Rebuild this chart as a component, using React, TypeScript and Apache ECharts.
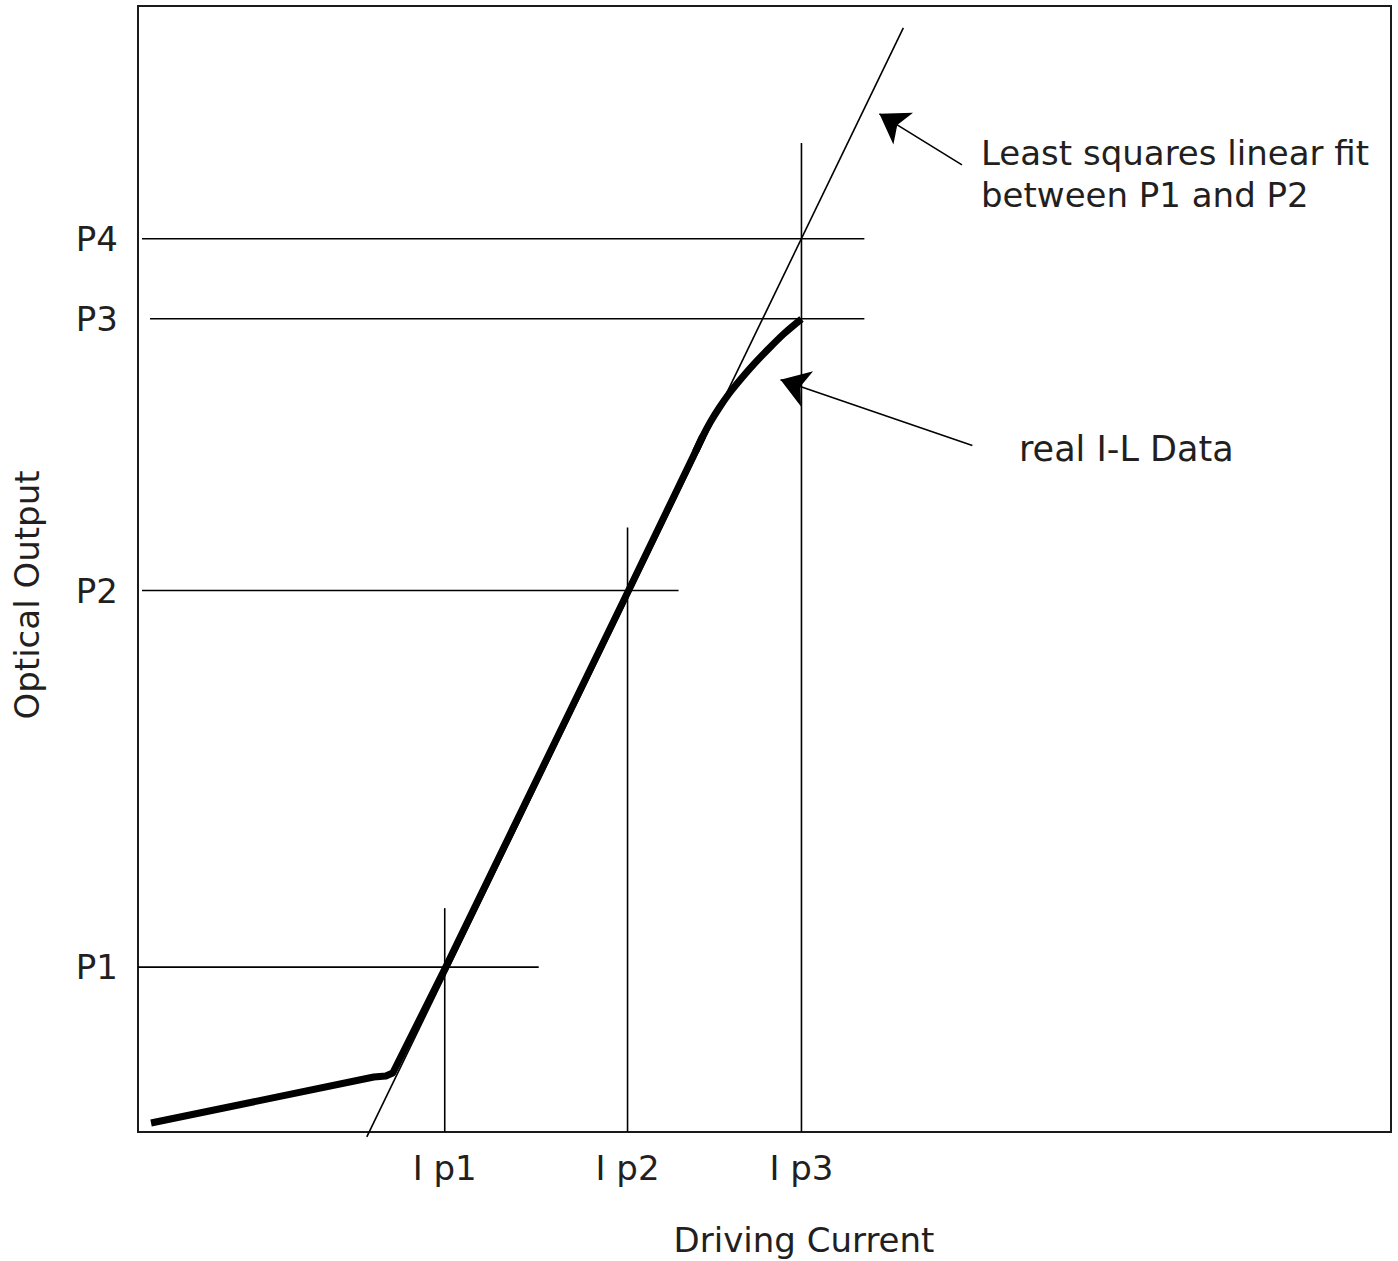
import React, { useEffect, useRef } from "react";
import * as echarts from "echarts";

// Axis domain (schematic units)
const X_MAX = 100;
const Y_MAX = 100;

// Current tick positions and labels
const currentTicks = [24.48, 39.07, 52.95];
const currentLabels = ["I p1", "I p2", "I p3"];

// Output tick positions and labels
const outputTicks = [14.64, 48.09, 72.23, 79.33];
const outputLabels = ["P1", "P2", "P3", "P4"];

// Horizontal guide lines: [xStart, xEnd, y]
const hGuides: [number, number, number][] = [
  [0, 31.98, 14.64],
  [0.32, 43.14, 48.09],
  [0.96, 57.97, 72.23],
  [0.32, 57.97, 79.33],
];

// Vertical guide lines: [x, yTop]
const vGuides: [number, number][] = [
  [24.48, 19.88],
  [39.07, 53.68],
  [52.95, 87.84],
];

// Least squares fit line endpoints
const fitLine: [number, number][] = [
  [18.26, -0.44],
  [61.08, 98.05],
];

// Real I-L data: linear region
const ilCurrent = [1.04, 18.82, 19.78, 20.33, 20.73, 24.56, 39.15, 44.5, 45.06];
const ilOutput = [0.8, 4.88, 4.97, 5.24, 6.12, 14.64, 48.09, 60.43, 61.76];

// Real I-L data: roll-over region
const rollCurrent = [44.5, 45.06, 45.67, 46.39, 47.21, 48.15, 49.19, 50.33, 51.55, 52.95];
const rollOutput = [60.43, 61.76, 63.03, 64.32, 65.63, 66.92, 68.24, 69.56, 70.89, 72.2];

// Arrows: [tail, tip]
const arrows: [number, number][][] = [
  [[65.76, 85.89], [59.17, 90.42]],
  [[66.59, 60.96], [51.28, 66.81]],
];

const FONT = "DejaVu Sans";
const TEXT_COLOR = "#231f20";

export default function App() {
  const ref = useRef<HTMLDivElement>(null);
  useEffect(() => {
    document.body.style.margin = "0";
    const chart = echarts.init(ref.current!, null, { renderer: "svg" });
    const lineStyle = { color: "#000", width: 1.6 };
    const series: any[] = [];
    hGuides.forEach((g) => {
      series.push({
        type: "line",
        data: [[g[0], g[2]], [g[1], g[2]]],
        symbol: "none",
        lineStyle,
        clip: false,
      });
    });
    vGuides.forEach((g) => {
      series.push({
        type: "line",
        data: [[g[0], 0], [g[0], g[1]]],
        symbol: "none",
        lineStyle,
        clip: false,
      });
    });
    series.push({
      type: "line",
      data: fitLine,
      symbol: "none",
      lineStyle,
      clip: false,
    });
    series.push({
      type: "line",
      data: ilCurrent.map((x, i) => [x, ilOutput[i]]),
      symbol: "none",
      smooth: false,
      lineStyle: { color: "#000", width: 7, cap: "butt", join: "round" },
      clip: false,
    });
    series.push({
      type: "line",
      data: rollCurrent.map((x, i) => [x, rollOutput[i]]),
      symbol: "none",
      smooth: 0.3,
      lineStyle: { color: "#000", width: 7, cap: "butt", join: "round" },
      clip: false,
    });
    series.push({
      type: "lines",
      coordinateSystem: "cartesian2d",
      data: arrows.map((a) => ({ coords: a })),
      symbol: ["none", "arrow"],
      symbolSize: [20, 28],
      lineStyle: { color: "#000", width: 1.6, opacity: 1 },
      clip: false,
    });

    chart.setOption({
      animation: false,
      grid: {
        left: 138,
        top: 6,
        right: 7,
        bottom: 129,
        show: true,
        borderColor: "#1a1a1a",
        borderWidth: 2,
        backgroundColor: "#fff",
      },
      xAxis: {
        type: "value",
        min: 0,
        max: X_MAX,
        axisLine: { show: false },
        axisTick: { show: false },
        splitLine: { show: false },
        axisLabel: {
          customValues: currentTicks,
          formatter: (v: number) => {
            const i = currentTicks.findIndex((t) => Math.abs(t - v) < 1e-6);
            return i >= 0 ? currentLabels[i] : "";
          },
          margin: 19,
          fontSize: 34,
          fontFamily: FONT,
          color: TEXT_COLOR,
        },
      },
      yAxis: {
        type: "value",
        min: 0,
        max: Y_MAX,
        axisLine: { show: false },
        axisTick: { show: false },
        splitLine: { show: false },
        axisLabel: {
          customValues: outputTicks,
          formatter: (v: number) => {
            const i = outputTicks.findIndex((t) => Math.abs(t - v) < 1e-6);
            return i >= 0 ? outputLabels[i] : "";
          },
          margin: 20,
          fontSize: 34,
          fontFamily: FONT,
          color: TEXT_COLOR,
        },
      },
      graphic: [
        {
          type: "text",
          left: 981,
          top: 132,
          style: {
            text: "Least squares linear fit\nbetween P1 and P2",
            font: `34px "${FONT}"`,
            fill: TEXT_COLOR,
            lineHeight: 42,
          },
        },
        {
          type: "text",
          left: 1019,
          top: 431,
          style: {
            text: "real I-L Data",
            font: `35px "${FONT}"`,
            fill: TEXT_COLOR,
          },
        },
        {
          type: "text",
          x: 804,
          y: 1240,
          style: {
            text: "Driving Current",
            font: `34px "${FONT}"`,
            fill: TEXT_COLOR,
            align: "center",
            verticalAlign: "middle",
          },
        },
        {
          type: "text",
          x: 27,
          y: 595,
          rotation: Math.PI / 2,
          style: {
            text: "Optical Output",
            font: `34px "${FONT}"`,
            fill: TEXT_COLOR,
            align: "center",
            verticalAlign: "middle",
          },
        },
      ],
      series,
    });
    return () => chart.dispose();
  }, []);
  return <div ref={ref} style={{ width: 1398, height: 1261 }} />;
}
